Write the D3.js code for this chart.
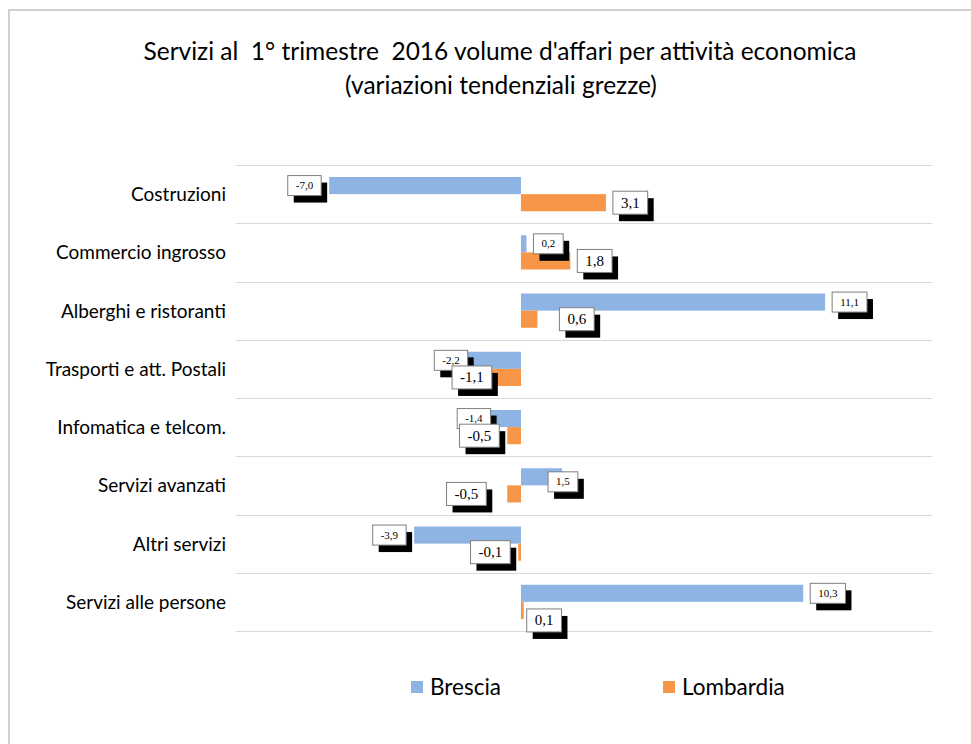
<!DOCTYPE html>
<html>
<head>
<meta charset="utf-8">
<script src="https://cdn.jsdelivr.net/npm/d3@7"></script>
<style>
  body { margin: 0; background: #fff; }
  svg { display: block; }
</style>
</head>
<body>
<div id="chart"></div>
<script>
var width = 971,
    height = 744;

// data
var categories = ['Costruzioni', 'Commercio ingrosso', 'Alberghi e ristoranti',
  'Trasporti e att. Postali', 'Infomatica e telcom.', 'Servizi avanzati',
  'Altri servizi', 'Servizi alle persone'];
var series = ['Brescia', 'Lombardia'];
var brescia = [-7.0, 0.2, 11.1, -2.2, -1.4, 1.5, -3.9, 10.3];
var lombardia = [3.1, 1.8, 0.6, -1.1, -0.5, -0.5, -0.1, 0.1];
var colours = ['#8eb4e3', '#f79646'];

// labels that were dragged by hand in the original (px)
var nudge = {
  'Brescia|3': [15, 0], 'Brescia|4': [16, 0], 'Brescia|5': [-21, 5],
  'Lombardia|2': [15, 0], 'Lombardia|3': [9, 0], 'Lombardia|5': [-13, 0],
  'Lombardia|7': [-4, 10]
};

var rows = categories.map(function(c, i) {
  return {cat: c, i: i, values: [brescia[i], lombardia[i]]};
});

var svg = d3.select('#chart').append('svg')
    .attr('width', width)
    .attr('height', height);

// frame
svg.append('path')
    .attr('d', 'M9,' + (height + 5) + 'V10H' + (width + 5))
    .attr('fill', 'none')
    .attr('stroke', '#d0d0d0')
    .attr('stroke-width', 2);

// title
var title = svg.append('text')
    .attr('text-anchor', 'middle')
    .style('font-family', 'Lato, sans-serif')
    .style('font-size', '24.5px')
    .style('white-space', 'pre')
    .attr('fill', '#000');
title.append('tspan').attr('x', 500).attr('y', 60)
    .text('Servizi al  1\u00b0 trimestre  2016 volume d\'affari per attivit\u00e0 economica');
title.append('tspan').attr('x', 501).attr('y', 94)
    .text('(variazioni tendenziali grezze)');

var x = d3.scaleLinear()
    .domain([-10.4, 15])
    .range([236, 932]);

var y = d3.scaleBand()
    .domain(d3.range(categories.length))
    .range([165, 631]);

var inner = d3.scaleBand()
    .domain(d3.range(series.length))
    .range([12, y.bandwidth() - 12]);

// grid lines
svg.append('g')
  .selectAll('line')
  .data(d3.range(categories.length + 1))
  .join('line')
    .attr('x1', 236)
    .attr('x2', 932)
    .attr('y1', function(d) { return Math.round(y.range()[0] + d * y.step()) + 0.5; })
    .attr('y2', function(d) { return Math.round(y.range()[0] + d * y.step()) + 0.5; })
    .attr('stroke', '#d9d9d9')
    .attr('stroke-width', 1);

// category labels
svg.append('g')
  .selectAll('text')
  .data(rows)
  .join('text')
    .attr('x', 226)
    .attr('y', function(d) { return y(d.i) + y.bandwidth() / 2 + 7; })
    .attr('text-anchor', 'end')
    .style('font-family', 'Lato, sans-serif')
    .style('font-size', '19px')
    .attr('fill', '#000')
    .text(function(d) { return d.cat; });

// bars
var bars = [];
rows.forEach(function(r) {
  r.values.forEach(function(v, s) {
    bars.push({i: r.i, s: s, v: v, key: series[s] + '|' + r.i});
  });
});

svg.append('g')
  .selectAll('rect')
  .data(bars)
  .join('rect')
    .attr('x', function(d) { return x(Math.min(0, d.v)); })
    .attr('y', function(d) { return y(d.i) + inner(d.s); })
    .attr('width', function(d) { return Math.abs(x(d.v) - x(0)); })
    .attr('height', inner.bandwidth())
    .attr('fill', function(d) { return colours[d.s]; });

// data labels: white box with black shadow
var fmt = function(v) { return v.toFixed(1).replace('.', ','); };
var lab = svg.append('g');

bars.forEach(function(d) {
  var fs = d.s === 0 ? 11 : 15,
      bh = d.s === 0 ? 20 : 23,
      g = lab.append('g');
  var t = g.append('text')
      .style('font-family', '"Liberation Serif", "Times New Roman", serif')
      .style('font-size', fs + 'px')
      .attr('text-anchor', 'middle')
      .text(fmt(d.v));
  var bw = t.node().getComputedTextLength() + 16;
  var end = x(d.v),
      left = d.v < 0 ? end - 8 - bw : end + 7,
      top = y(d.i) + inner(d.s) + inner.bandwidth() / 2 - bh / 2;
  var n = nudge[d.key] || [0, 0];
  left += n[0];
  top += n[1];
  g.insert('rect', 'text')
      .attr('x', left + 6).attr('y', top + 7)
      .attr('width', bw).attr('height', bh)
      .attr('fill', '#000');
  g.insert('rect', 'text')
      .attr('x', left).attr('y', top)
      .attr('width', bw).attr('height', bh)
      .attr('fill', '#fff')
      .attr('stroke', '#7f7f7f')
      .attr('stroke-width', 1);
  t.attr('x', left + bw / 2)
   .attr('y', top + bh / 2 + fs * 0.33);
});

// legend
var legend = svg.append('g')
  .selectAll('g')
  .data(series)
  .join('g')
    .attr('transform', function(d, i) { return 'translate(' + (411 + i * 252) + ',681)'; });

legend.append('rect')
    .attr('width', 12).attr('height', 12)
    .attr('fill', function(d, i) { return colours[i]; });

legend.append('text')
    .attr('x', 19).attr('y', 14)
    .style('font-family', 'Lato, sans-serif')
    .style('font-size', '22.5px')
    .attr('fill', '#000')
    .text(function(d) { return d; });
</script>
</body>
</html>
